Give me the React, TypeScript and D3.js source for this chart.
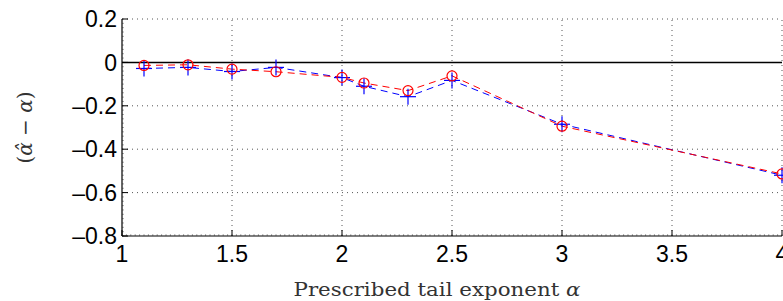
import React from "react";
import * as d3 from "d3";

// prescribed alpha values
const alphas = [1.1, 1.3, 1.5, 1.7, 2.0, 2.1, 2.3, 2.5, 3.0, 4.0];
// bias of the estimator, two methods
const biasRed = [-0.014, -0.011, -0.031, -0.043, -0.069, -0.095, -0.13, -0.062, -0.294, -0.514];
const biasBlue = [-0.028, -0.023, -0.042, -0.023, -0.07, -0.11, -0.158, -0.083, -0.285, -0.52];
const xTicks = [1, 1.5, 2, 2.5, 3, 3.5, 4];
const yTicks = [0.2, 0, -0.2, -0.4, -0.6, -0.8];

const W = 783;
const H = 301;
const margin = { top: 19, right: 1, bottom: 65, left: 122 };

const fmt = (v: number) => (v < 0 ? "\u2013" + String(-v) : String(v));

const App = () => {
  const x = d3.scaleLinear().domain([1, 4]).range([margin.left, W - margin.right]);
  const y = d3.scaleLinear().domain([-0.8, 0.2]).range([H - margin.bottom, margin.top]);
  const x0 = x.range()[0];
  const x1 = x.range()[1];
  const yb = y(-0.8);
  const yt = y(0.2);

  const line = d3
    .line<number>()
    .x((d, i) => x(alphas[i]))
    .y((d) => y(d));

  const xMinor = d3.range(1, 4.0001, 0.02);
  const yMinor = d3.range(-0.8, 0.2001, 0.02);

  return (
    <svg width={W} height={H} style={{ position: "absolute", left: 0, top: 0, background: "#fff" }}>
      {/* grid */}
      <g stroke="#555" strokeWidth={1} strokeDasharray="1 4">
        {xTicks.slice(1).map((t) => (
          <line key={"gx" + t} x1={x(t)} x2={x(t)} y1={yb} y2={yt} />
        ))}
        {yTicks.filter((t) => t !== -0.8 && t !== 0).map((t) => (
          <line key={"gy" + t} x1={x0} x2={x1} y1={y(t)} y2={y(t)} />
        ))}
      </g>
      {/* minor ticks */}
      <g stroke="#aaa" strokeWidth={1}>
        {xMinor.map((t, i) => (
          <line key={"mx" + i} x1={x(t)} x2={x(t)} y1={yb} y2={yb - 2} />
        ))}
        {yMinor.map((t, i) => (
          <line key={"my" + i} x1={x0} x2={x0 + 2} y1={y(t)} y2={y(t)} />
        ))}
      </g>
      {/* major ticks */}
      <g stroke="#000" strokeWidth={1}>
        {xTicks.map((t) => (
          <line key={"tx" + t} x1={x(t)} x2={x(t)} y1={yb} y2={yb - 6} />
        ))}
        {yTicks.map((t) => (
          <line key={"ty" + t} x1={x0} x2={x0 + 6} y1={y(t)} y2={y(t)} />
        ))}
      </g>
      {/* axes */}
      <line x1={x0} x2={x0} y1={yt} y2={yb} stroke="#000" strokeWidth={1.2} />
      <line x1={x0} x2={x1} y1={yb} y2={yb} stroke="#000" strokeWidth={1.2} />
      <line x1={x0} x2={x1} y1={y(0)} y2={y(0)} stroke="#000" strokeWidth={1.5} />

      {/* tick labels */}
      <g fontFamily="Liberation Sans, Arial, sans-serif" fontSize={23} fill="#000">
        {xTicks.map((t) => (
          <text key={"lx" + t} x={x(t)} y={yb + 26} textAnchor="middle">
            {fmt(t)}
          </text>
        ))}
        {yTicks.map((t) => (
          <text key={"ly" + t} x={x0 - 5} y={y(t)} dy="0.36em" textAnchor="end">
            {fmt(t)}
          </text>
        ))}
      </g>

      {/* series */}
      <path d={line(biasBlue) || ""} fill="none" stroke="#0000ff" strokeWidth={1} strokeDasharray="7 5" />
      <path d={line(biasRed) || ""} fill="none" stroke="#ff0000" strokeWidth={1} strokeDasharray="7 5" />
      <g stroke="#0000ff" strokeWidth={1.2}>
        {biasBlue.map((v, i) => (
          <g key={"pb" + i}>
            <line x1={x(alphas[i]) - 8} x2={x(alphas[i]) + 8} y1={y(v)} y2={y(v)} />
            <line x1={x(alphas[i])} x2={x(alphas[i])} y1={y(v) - 8} y2={y(v) + 8} />
          </g>
        ))}
      </g>
      <g stroke="#ff0000" strokeWidth={1.2} fill="none">
        {biasRed.map((v, i) => (
          <circle key={"pr" + i} cx={x(alphas[i])} cy={y(v)} r={5} />
        ))}
      </g>

      {/* axis labels */}
      <text
        x={437}
        y={296}
        textAnchor="middle"
        fontFamily="DejaVu Serif, serif"
        fontSize={19}
        fill="#333"
        textLength={287}
        lengthAdjust="spacingAndGlyphs"
      >
        Prescribed tail exponent <tspan fontStyle="italic">α</tspan>
      </text>
      <text
        transform={`translate(32,${(yt + yb) / 2}) rotate(-90)`}
        textAnchor="middle"
        fontFamily="DejaVu Serif, serif"
        fontSize={20}
        fill="#333"
      >
        (<tspan fontStyle="italic">α̂</tspan> − <tspan fontStyle="italic">α</tspan>)
      </text>
    </svg>
  );
};

export default App;
